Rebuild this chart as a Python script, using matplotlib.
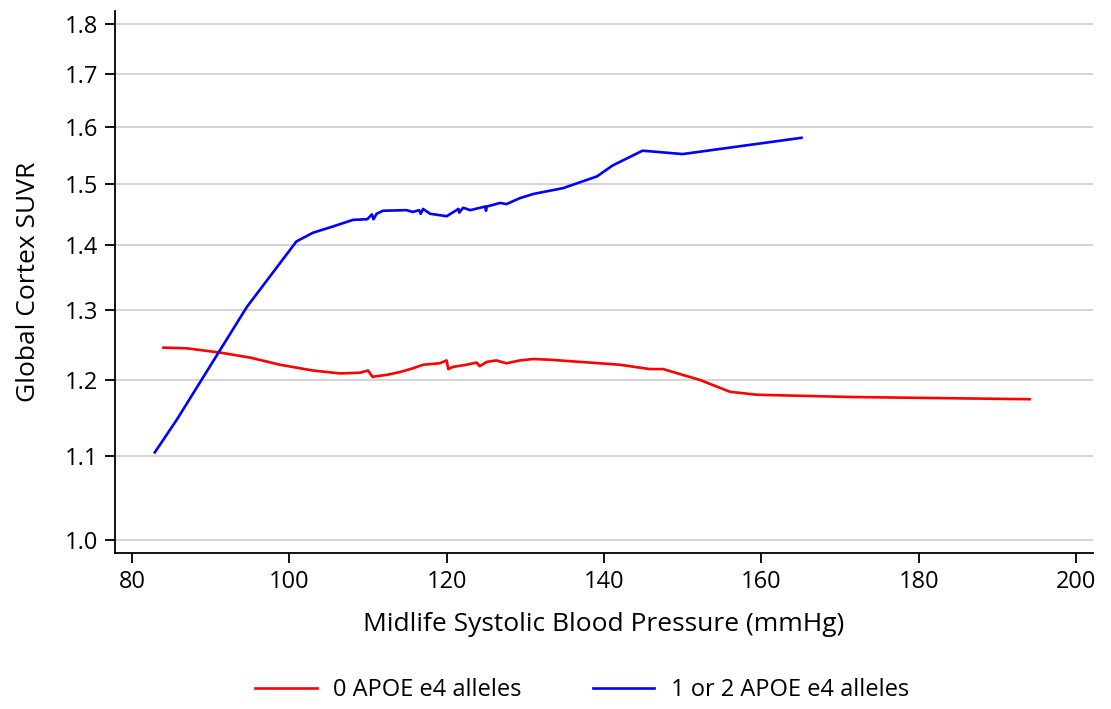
import matplotlib
matplotlib.use("Agg")
import matplotlib.pyplot as plt
from matplotlib.ticker import FixedLocator, FormatStrFormatter, NullLocator

# 1 or 2 APOE e4 alleles (blue)
bp_e4 = [82.9, 85.7, 94.6, 100.9, 103.0, 105.5, 108.1, 109.9, 110.5, 110.7, 111.1,
         111.9, 114.9, 115.7, 116.5, 116.7, 117.0, 117.9, 120.0, 121.5, 121.6, 122.1,
         123.0, 124.9, 125.0, 125.1, 126.8, 127.6, 129.3, 131.0, 134.8, 139.1, 141.1,
         144.9, 150.0, 165.1]
suvr_e4 = [1.105, 1.147, 1.304, 1.405, 1.419, 1.429, 1.440, 1.441, 1.449, 1.441, 1.450,
           1.455, 1.456, 1.453, 1.456, 1.450, 1.458, 1.450, 1.446, 1.458, 1.452, 1.460,
           1.456, 1.462, 1.455, 1.462, 1.468, 1.466, 1.476, 1.483, 1.493, 1.513, 1.532,
           1.558, 1.552, 1.581]

# 0 APOE e4 alleles (red)
bp_no = [84.0, 87.0, 91.2, 95.0, 98.8, 103.0, 106.4, 109.0, 110.0, 110.6, 110.9, 112.4,
         114.1, 115.7, 117.0, 119.1, 120.0, 120.2, 120.8, 122.5, 123.8, 124.2, 125.1,
         126.3, 127.6, 129.3, 131.0, 133.1, 138.2, 142.0, 145.8, 147.5, 152.2, 156.0,
         159.4, 171.2, 194.1]
suvr_no = [1.245, 1.244, 1.238, 1.231, 1.221, 1.213, 1.209, 1.210, 1.213, 1.204, 1.205,
           1.207, 1.211, 1.216, 1.221, 1.223, 1.227, 1.215, 1.218, 1.221, 1.224, 1.219,
           1.225, 1.227, 1.223, 1.227, 1.229, 1.228, 1.224, 1.221, 1.215, 1.215, 1.200,
           1.184, 1.180, 1.177, 1.174]

xticks = [80, 100, 120, 140, 160, 180, 200]
yticks = [1.0, 1.1, 1.2, 1.3, 1.4, 1.5, 1.6, 1.7, 1.8]

plt.rcParams['font.family'] = ['Open Sans', 'DejaVu Sans']

fig = plt.figure(figsize=(11.11, 7.09), dpi=100)
ax = fig.add_axes([0.1035, 0.22, 0.8803, 0.7645])

ax.set_yscale('log')
ax.plot(bp_no, suvr_no, color='#ff0000', lw=1.9, label='0 APOE e4 alleles')
ax.plot(bp_e4, suvr_e4, color='#0000ff', lw=1.9, label='1 or 2 APOE e4 alleles')

ax.set_xlim(77.84, 202.16)
ax.set_ylim(0.9854, 1.8266)
ax.set_xticks(xticks)
ax.yaxis.set_major_locator(FixedLocator(yticks))
ax.yaxis.set_major_formatter(FormatStrFormatter('%.1f'))
ax.yaxis.set_minor_locator(NullLocator())

ax.grid(axis='y', color='#cccccc', lw=1.2)
ax.set_axisbelow(True)
for s in ['top', 'right']:
    ax.spines[s].set_visible(False)
ax.spines['left'].set_linewidth(1.3)
ax.spines['bottom'].set_linewidth(1.3)
ax.tick_params(labelsize=17, length=7, width=1.3, direction='out', pad=5)

ax.set_xlabel('Midlife Systolic Blood Pressure (mmHg)', fontsize=19, labelpad=13)
ax.set_ylabel('Global Cortex SUVR', fontsize=19, labelpad=17)

fig.legend(loc='center', bbox_to_anchor=(0.524, 0.027), ncol=2, frameon=False,
           fontsize=17, handlelength=2.6, handletextpad=0.7, columnspacing=3.0)

fig.savefig('out.png', dpi=100)
